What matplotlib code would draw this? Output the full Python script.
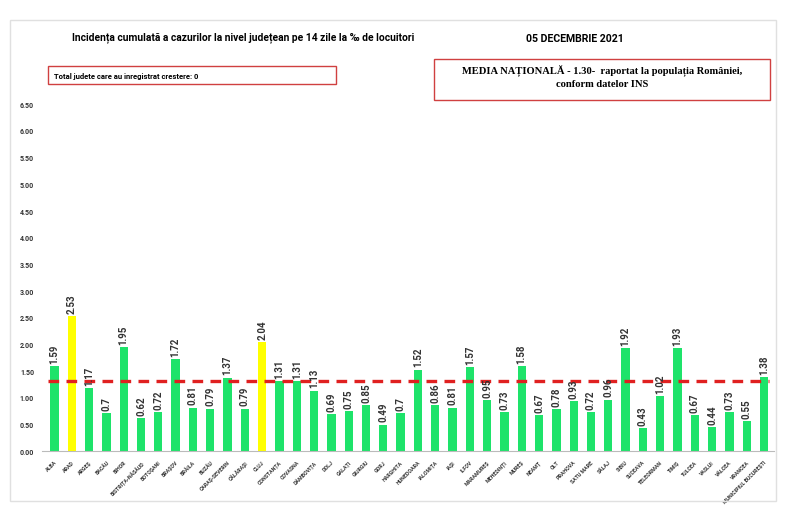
import matplotlib.pyplot as plt
from matplotlib.patches import Rectangle

judete = ["ALBA", "ARAD", "ARGEȘ", "BACĂU", "BIHOR", "BISTRIȚA-NĂSĂUD", "BOTOȘANI",
          "BRAȘOV", "BRĂILA", "BUZĂU", "CARAȘ-SEVERIN", "CĂLĂRAȘI", "CLUJ", "CONSTANȚA",
          "COVASNA", "DÂMBOVIȚA", "DOLJ", "GALAȚI", "GIURGIU", "GORJ", "HARGHITA",
          "HUNEDOARA", "IALOMIȚA", "IAȘI", "ILFOV", "MARAMUREȘ", "MEHEDINȚI", "MUREȘ",
          "NEAMȚ", "OLT", "PRAHOVA", "SATU MARE", "SĂLAJ", "SIBIU", "SUCEAVA",
          "TELEORMAN", "TIMIȘ", "TULCEA", "VASLUI", "VÂLCEA", "VRANCEA",
          "MUNICIPIUL BUCUREȘTI"]
incidenta = [1.59, 2.53, 1.17, 0.7, 1.95, 0.62, 0.72, 1.72, 0.81, 0.79, 1.37, 0.79,
             2.04, 1.31, 1.31, 1.13, 0.69, 0.75, 0.85, 0.49, 0.7, 1.52, 0.86, 0.81,
             1.57, 0.95, 0.73, 1.58, 0.67, 0.78, 0.93, 0.72, 0.96, 1.92, 0.43, 1.02,
             1.93, 0.67, 0.44, 0.73, 0.55, 1.38]
galbene = ["ARAD", "CLUJ"]
media = 1.30
y_ticks = [0.0, 0.5, 1.0, 1.5, 2.0, 2.5, 3.0, 3.5, 4.0, 4.5, 5.0, 5.5, 6.0, 6.5]

font = ["Roboto", "DejaVu Sans"]

fig = plt.figure(figsize=(8, 5.06), dpi=100)
ax = fig.add_axes([0.053, 0.107, 0.915, 0.686])

culori = ["#ffff00" if j in galbene else "#1ee36a" for j in judete]
x = range(len(judete))
ax.bar(x, incidenta, width=0.48, color=culori)
ax.plot([-0.4, len(judete) - 0.7], [media, media], color="#e02020", lw=2.4,
        ls=(0, (3.2, 2.2)), zorder=3)

for i, v in enumerate(incidenta):
    ax.text(i, v + 0.06, f"{v:g}", rotation=90, ha="center", va="bottom",
            fontsize=7, color="#333333", fontweight="bold", family=font, zorder=4)

ax.set_xlim(-0.7, len(judete) - 0.4)
ax.set_ylim(0, 6.5)
ax.set_yticks(y_ticks)
ax.set_yticklabels([f"{t:.2f}" for t in y_ticks], fontsize=5, color="#333333",
                   family=font, fontweight="bold")
ax.set_xticks(list(x))
ax.set_xticklabels(judete, rotation=45, ha="right", rotation_mode="anchor",
                   fontsize=3.8, color="#333333", family=font, fontweight="bold")
ax.tick_params(length=0, pad=6)
for s in ["top", "right", "left"]:
    ax.spines[s].set_visible(False)
ax.spines["bottom"].set_color("#bbbbbb")

# chenar pagina
fig.patches.append(Rectangle((0.012, 0.008), 0.958, 0.95, transform=fig.transFigure,
                             fill=False, ec="#e0e0e0", lw=1))

fig.text(0.09, 0.925, "Incidența cumulată a cazurilor la nivel județean pe 14 zile la ‰ de locuitori",
         fontsize=7.4, fontweight="bold", va="center", family=font)
fig.text(0.658, 0.922, "05 DECEMBRIE 2021", fontsize=7.6, fontweight="bold", va="center",
         family=font)

fig.patches.append(Rectangle((0.06, 0.832), 0.36, 0.035, transform=fig.transFigure,
                             fill=False, ec="#d04040", lw=1))
fig.text(0.067, 0.849, "Total judete care au inregistrat crestere: 0", fontsize=5.5,
         fontweight="bold", va="center", family=font)

fig.patches.append(Rectangle((0.543, 0.8), 0.42, 0.082, transform=fig.transFigure,
                             fill=False, ec="#d04040", lw=1))
fig.text(0.753, 0.862, "MEDIA NAȚIONALĂ - 1.30-  raportat la populația României,",
         fontsize=7.6, fontweight="bold", family="Liberation Serif", ha="center", va="center")
fig.text(0.753, 0.833, "conform datelor INS", fontsize=7.6, fontweight="bold",
         family="Liberation Serif", ha="center", va="center")

fig.savefig("out.png", dpi=100)
